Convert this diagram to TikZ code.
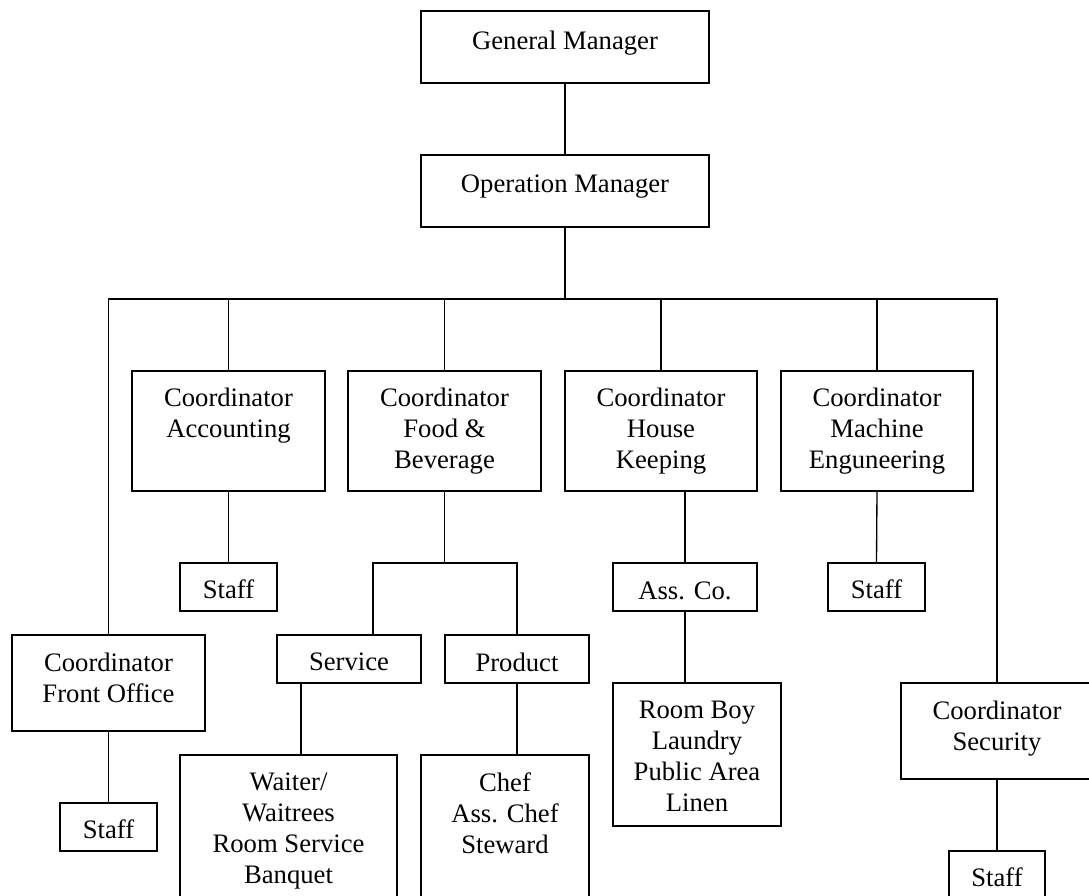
\documentclass[tikz,border=0pt]{standalone}
\usepackage{fontspec}
\setmainfont{Liberation Serif}
\tikzset{
  box/.style={draw, line width=1pt, inner sep=0pt},
  txt/.style={anchor=north, align=center, inner sep=0pt, font=\fontsize{20}{23.25}\selectfont},
  conn/.style={line width=1pt}
}
% \obox{name}{x1}{y1}{x2}{y2}{pad}{text}
\newcommand\obox[7]{%
  \node[box, minimum width={(#4-#2)*0.75pt}, minimum height={(#5-#3)*0.75pt},
        label={[txt, yshift={-#6*0.75pt}]north:{#7}}]
        (#1) at ({(#2+#4)/2},{(#3+#5)/2}) {};}
\begin{document}
\begin{tikzpicture}[x=0.75pt,y=-0.75pt]
\useasboundingbox (0,0) rectangle (1089,896);
\clip (0,0) rectangle (1089,896);
\obox{gm}{421}{11}{709}{83}{20}{General Manager}
\obox{om}{421}{155}{709}{227}{20}{Operation Manager}
\obox{acc}{132}{371}{325}{491}{17}{Coordinator\\Accounting}
\obox{fb}{348}{371}{541}{491}{17}{Coordinator\\Food \&\\Beverage}
\obox{hk}{565}{371}{757}{491}{17}{Coordinator\\House\\Keeping}
\obox{me}{781}{371}{973}{491}{17}{Coordinator\\Machine\\Enguneering}
\obox{accs}{180}{563}{277}{611}{17}{Staff}
\obox{svc}{277}{635}{421}{683}{18}{Service}
\obox{prd}{445}{635}{589}{683}{18}{Product}
\obox{wt}{180}{755}{397}{905}{18}{Waiter/\\Waitrees\\Room Service\\Banquet}
\obox{chef}{421}{755}{589}{905}{18}{Chef\\Ass. Chef\\Steward}
\obox{asc}{613}{563}{757}{611}{19}{Ass. Co.}
\obox{rb}{613}{683}{781}{826}{18}{Room Boy\\Laundry\\Public Area\\Linen}
\obox{mes}{828}{563}{925}{611}{17}{Staff}
\obox{fo}{12}{635}{205}{731}{18}{Coordinator\\Front Office}
\obox{fos}{60}{803}{157}{851}{17}{Staff}
\obox{sec}{901}{683}{1093}{779}{18}{Coordinator\\Security}
\obox{secs}{949}{851}{1045}{905}{17}{Staff}

\coordinate (bus) at (565,299);
\draw[conn] (gm.south) -- (om.north);
\draw[conn] (om.south) -- (bus);
\draw[conn] (fo.north) |- (bus) -| (sec.north);
\draw[conn] (acc.north) -- (acc.north |- bus);
\draw[conn] (fb.north) -- (fb.north |- bus);
\draw[conn] (hk.north) -- (hk.north |- bus);
\draw[conn] (me.north) -- (me.north |- bus);

\draw[conn] (acc.south) -- (accs.north);

\coordinate (fbL) at (373,563);
\coordinate (fbR) at (517,563);
\draw[conn] (fb.south) -- (fb.south |- fbL);
\draw[conn] (fbL |- svc.north) -- (fbL) -- (fbR) -- (prd.north);
\coordinate (svcB) at (301,683);
\draw[conn] (svcB) -- (svcB |- wt.north);
\draw[conn] (prd.south) -- (prd.south |- chef.north);

\draw[conn] (asc.north) -- (asc.north |- hk.south);
\draw[conn] (asc.south) -- (asc.south |- rb.north);

\draw[conn] (me.south) -- (mes.north);
\draw[conn] (fo.south) -- (fos.north);
\draw[conn] (sec.south) -- (secs.north);
\end{tikzpicture}
\end{document}
